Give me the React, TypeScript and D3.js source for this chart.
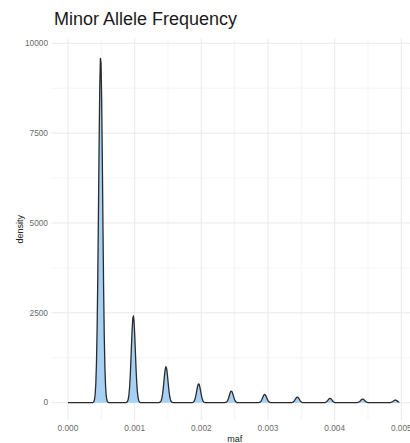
import React, { useEffect, useRef } from 'react';
import * as d3 from 'd3';

// peak positions (maf) and peak density heights
const peakMaf = [0.00049, 0.00098, 0.00147, 0.00196, 0.00245, 0.00295, 0.00344, 0.00393, 0.00442, 0.00491];
const peakDensity = [9650, 2420, 1000, 525, 322, 230, 156, 120, 100, 72];
const xTicks = [0, 0.001, 0.002, 0.003, 0.004, 0.005];
const yTicks = [0, 2500, 5000, 7500, 10000];
const mafMax = 0.00497;
const bandwidth = 0.00003;

const App: React.FC = () => {
  const svgRef = useRef<SVGSVGElement>(null);

  useEffect(() => {
    const W = 410;
    const H = 443;
    const font = "'Liberation Sans', Arial, Helvetica, sans-serif";

    const svg = d3.select(svgRef.current);
    svg.selectAll('*').remove();
    svg.attr('width', W).attr('height', H).style('background', '#fff');

    // panel extends slightly past the right edge (cropped figure)
    const x = d3.scaleLinear().domain([-0.00025, 0.00525]).range([51.3, 418]);
    const y = d3.scaleLinear().domain([-482.5, 10132.5]).range([420, 38.5]);

    const [px0, px1] = x.range();
    const [py0, py1] = y.range();

    // grid: minor lines first
    const g = svg.append('g');
    const xMinor = d3.range(0.0005, 0.005, 0.001);
    const yMinor = [1250, 3750, 6250, 8750];
    g.selectAll('.xminor').data(xMinor).enter().append('line')
      .attr('x1', d => x(d)).attr('x2', d => x(d))
      .attr('y1', py1).attr('y2', py0)
      .attr('stroke', '#f3f3f3').attr('stroke-width', 0.8);
    g.selectAll('.yminor').data(yMinor).enter().append('line')
      .attr('x1', px0).attr('x2', px1)
      .attr('y1', d => y(d)).attr('y2', d => y(d))
      .attr('stroke', '#f3f3f3').attr('stroke-width', 0.8);
    g.selectAll('.xmajor').data(xTicks).enter().append('line')
      .attr('x1', d => x(d)).attr('x2', d => x(d))
      .attr('y1', py1).attr('y2', py0)
      .attr('stroke', '#e9e9e9').attr('stroke-width', 1);
    g.selectAll('.ymajor').data(yTicks).enter().append('line')
      .attr('x1', px0).attr('x2', px1)
      .attr('y1', d => y(d)).attr('y2', d => y(d))
      .attr('stroke', '#e9e9e9').attr('stroke-width', 1);

    // density curve from the read peaks (gaussian kernel shape)
    const grid = d3.range(0, 512).map(i => (i / 511) * mafMax);
    const curve = grid.map(m => {
      let dens = 0;
      peakMaf.forEach((p, i) => {
        const z = (m - p) / bandwidth;
        dens += peakDensity[i] * Math.exp(-0.5 * z * z);
      });
      return { m, dens };
    });

    const area = d3.area<{ m: number; dens: number }>()
      .x(d => x(d.m))
      .y0(y(0))
      .y1(d => y(d.dens));
    const line = d3.line<{ m: number; dens: number }>()
      .x(d => x(d.m))
      .y(d => y(d.dens));

    svg.append('path').datum(curve)
      .attr('d', area)
      .attr('fill', '#a6d1f5');
    svg.append('path').datum(curve)
      .attr('d', line)
      .attr('fill', 'none')
      .attr('stroke', '#2b2b2b')
      .attr('stroke-width', 1.3)
      .attr('stroke-linejoin', 'round');

    // axis labels
    svg.selectAll('.ylab').data(yTicks).enter().append('text')
      .attr('x', 48)
      .attr('y', d => y(d) + 2.8)
      .attr('text-anchor', 'end')
      .style('font-family', font)
      .style('font-size', '8.3px')
      .style('fill', '#6b6b6b')
      .text(d => d3.format('d')(d));

    svg.selectAll('.xlab').data(xTicks).enter().append('text')
      .attr('x', d => x(d))
      .attr('y', 431.3)
      .attr('text-anchor', 'middle')
      .style('font-family', font)
      .style('font-size', '8.3px')
      .style('fill', '#6b6b6b')
      .text(d => d3.format('.3f')(d));

    svg.append('text')
      .attr('x', (px0 + px1) / 2)
      .attr('y', 441.5)
      .attr('text-anchor', 'middle')
      .style('font-family', font)
      .style('font-size', '9px')
      .style('fill', '#222')
      .text('maf');

    svg.append('text')
      .attr('transform', `translate(23, ${(py0 + py1) / 2}) rotate(-90)`)
      .attr('text-anchor', 'middle')
      .style('font-family', font)
      .style('font-size', '9px')
      .style('fill', '#222')
      .text('density');

    svg.append('text')
      .attr('x', 54)
      .attr('y', 25)
      .style('font-family', font)
      .style('font-size', '18px')
      .style('fill', '#1a1a1a')
      .text('Minor Allele Frequency');
  }, []);

  return (
    <div style={{ position: 'absolute', left: 0, top: 0, width: 410, height: 443, overflow: 'hidden' }}>
      <svg ref={svgRef} style={{ display: 'block' }}></svg>
    </div>
  );
};

export default App;
